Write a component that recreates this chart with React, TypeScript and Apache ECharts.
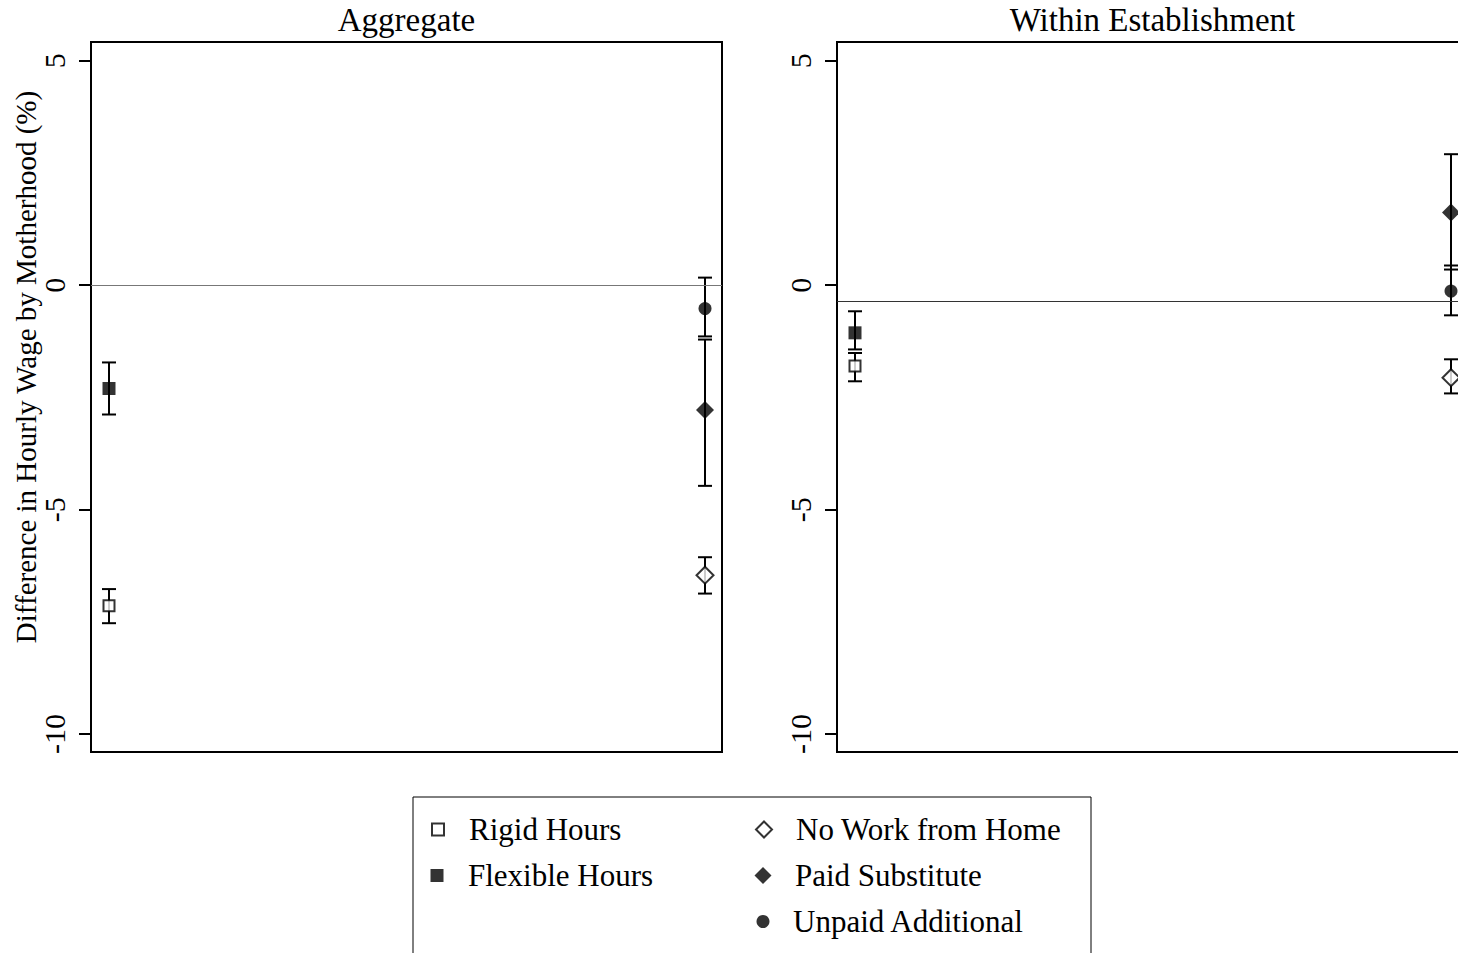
import React, { useEffect, useRef } from "react";
import * as echarts from "echarts";

const panels = ["Aggregate", "Within Establishment"];
const measures = ["Rigid Hours", "Flexible Hours", "No Work from Home", "Paid Substitute", "Unpaid Additional"];
const measureX = [1, 1, 2, 2, 2];

const aggregateEst = [-7.14, -2.3, -6.46, -2.78, -0.52];
const aggregateLo = [-7.53, -2.88, -6.87, -4.47, -1.14];
const aggregateHi = [-6.77, -1.72, -6.06, -1.21, 0.17];

const withinEst = [-1.8, -1.06, -2.06, 1.62, -0.13];
const withinLo = [-2.14, -1.43, -2.41, 0.35, -0.67];
const withinHi = [-1.51, -0.58, -1.65, 2.92, 0.44];

const referenceLine = [0, -0.36];
const yTicks = [-10, -5, 0, 5];
const yTitle = "Difference in Hourly Wage by Motherhood (%)";

const FONT = "Liberation Serif";

const markerStyles = [
  { symbol: "rect", size: 11, legendSize: 12, itemStyle: { color: "#fff", borderColor: "#000", borderWidth: 2 } },
  { symbol: "rect", size: 13, legendSize: 13, itemStyle: { color: "#000", borderColor: "#000", borderWidth: 0 } },
  { symbol: "diamond", size: 17, legendSize: 16, itemStyle: { color: "#fff", borderColor: "#000", borderWidth: 2 } },
  { symbol: "diamond", size: 18, legendSize: 17, itemStyle: { color: "#000", borderColor: "#000", borderWidth: 0 } },
  { symbol: "circle", size: 13, legendSize: 13, itemStyle: { color: "#000", borderColor: "#000", borderWidth: 0 } },
];

const legendPos = [
  { cx: 437, textX: 468, cy: 831 },
  { cx: 437, textX: 468, cy: 877 },
  { cx: 763, textX: 795, cy: 831 },
  { cx: 763, textX: 795, cy: 877 },
  { cx: 763, textX: 793, cy: 923 },
];

export default function App() {
  const ref = useRef<HTMLDivElement>(null);
  useEffect(() => {
    document.body.style.margin = "0";
    document.body.style.overflow = "hidden";
    const chart = echarts.init(ref.current!, undefined, { renderer: "svg" });
    const est = [aggregateEst, withinEst];
    const lo = [aggregateLo, withinLo];
    const hi = [aggregateHi, withinHi];
    const gridLeft = [91, 837];
    const gridW = 631;

    const grids = panels.map((_, p) => ({
      left: gridLeft[p],
      top: 42,
      width: gridW,
      height: 710,
      show: true,
      borderColor: "#000",
      borderWidth: 2,
      backgroundColor: "transparent",
      outerBoundsMode: "none",
      containLabel: false,
    }));

    const xAxes = panels.map((_, p) => ({
      type: "value",
      gridIndex: p,
      min: 0.9698,
      max: 2.0285,
      show: false,
    }));

    const yAxes = panels.map((_, p) => ({
      type: "value",
      gridIndex: p,
      min: -10.4,
      max: 5.42,
      splitLine: { show: false },
      axisLine: { show: true, lineStyle: { color: "#000", width: 2 } },
      axisTick: { show: true, length: 12, lineStyle: { color: "#000", width: 2 }, customValues: yTicks },
      axisLabel: {
        show: true,
        rotate: 90,
        margin: 22,
        fontSize: 30,
        fontFamily: FONT,
        color: "#000",
        customValues: yTicks,
        formatter: (v: number) => "{t|" + String(v) + "}",
        rich: { t: { fontFamily: FONT, fontSize: 30, color: "#000" } },
      },
    }));

    const series: any[] = [];
    panels.forEach((_, p) => {
      series.push({
        type: "custom",
        name: "errorbar-" + p,
        xAxisIndex: p,
        yAxisIndex: p,
        z: 2,
        silent: true,
        clip: false,
        encode: { x: 0, y: [1, 2] },
        data: measures.map((_, m) => [measureX[m], lo[p][m], hi[p][m]]),
        renderItem: (params: any, api: any) => {
          const x = api.value(0);
          const a = api.coord([x, api.value(1)]);
          const b = api.coord([x, api.value(2)]);
          const hw = 7;
          const st = { stroke: "#000", lineWidth: 2 };
          return {
            type: "group",
            children: [
              { type: "line", shape: { x1: a[0], y1: a[1], x2: b[0], y2: b[1] }, style: st },
              { type: "line", shape: { x1: a[0] - hw, y1: a[1], x2: a[0] + hw, y2: a[1] }, style: st },
              { type: "line", shape: { x1: b[0] - hw, y1: b[1], x2: b[0] + hw, y2: b[1] }, style: st },
            ],
          };
        },
        markLine: {
          silent: true,
          symbol: "none",
          label: { show: false },
          lineStyle: { color: p === 0 ? "#777" : "#333", width: 1, type: "solid" },
          data: [{ yAxis: referenceLine[p] }],
        },
      });
      measures.forEach((name, m) => {
        const ms = markerStyles[m];
        series.push({
          type: "scatter",
          name,
          xAxisIndex: p,
          yAxisIndex: p,
          z: 3,
          clip: false,
          symbol: ms.symbol,
          symbolSize: ms.size,
          itemStyle: ms.itemStyle,
          data: [[measureX[m], est[p][m]]],
        });
      });
    });

    const legends = measures.map((name, m) => {
      const pos = legendPos[m];
      const s = markerStyles[m].legendSize;
      const pad = pos.textX - (pos.cx + s / 2) - 5;
      return {
        show: true,
        data: [name],
        left: pos.cx - s / 2,
        top: pos.cy - 17,
        padding: 0,
        itemWidth: s,
        itemHeight: s,
        selectedMode: false,
        icon: markerStyles[m].symbol,
        itemStyle: markerStyles[m].itemStyle,
        textStyle: { fontSize: 31, fontFamily: FONT, color: "#000", padding: [0, 0, 0, pad] },
      };
    });

    chart.setOption({
      animation: false,
      backgroundColor: "#fff",
      textStyle: { fontFamily: FONT },
      title: panels.map((t, p) => ({
        text: t,
        left: gridLeft[p] + gridW / 2,
        textAlign: "center",
        top: 3,
        padding: 0,
        textStyle: { fontSize: 33, fontWeight: "normal", fontFamily: FONT, color: "#000" },
      })),
      grid: grids,
      xAxis: xAxes,
      yAxis: yAxes,
      legend: legends,
      graphic: [
        {
          type: "rect",
          shape: { x: 413, y: 797, width: 678, height: 170 },
          style: { fill: "none", stroke: "#000", lineWidth: 1 },
          silent: true,
        },
        {
          type: "text",
          x: 26,
          y: 367,
          rotation: Math.PI / 2,
          style: {
            text: yTitle,
            fontSize: 29,
            fontFamily: FONT,
            fill: "#000",
            textAlign: "center",
            textVerticalAlign: "middle",
          },
          silent: true,
        },
      ],
      series,
    });
    return () => chart.dispose();
  }, []);
  return <div ref={ref} style={{ width: 1458, height: 953 }} />;
}
